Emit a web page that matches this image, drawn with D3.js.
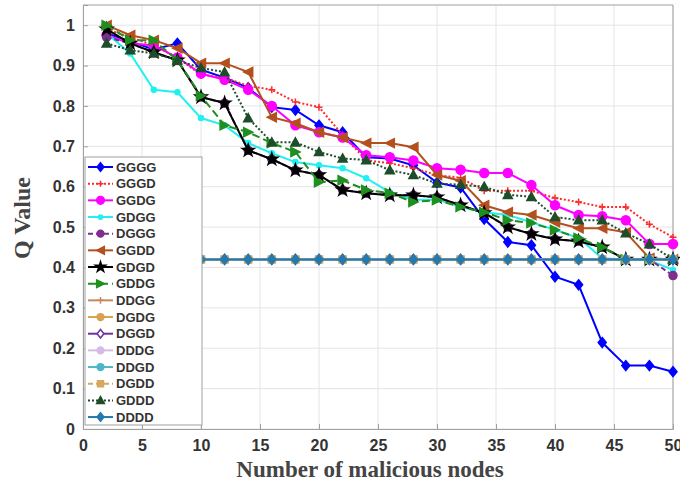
<!DOCTYPE html>
<html>
<head>
<meta charset="utf-8">
<script src="https://cdn.jsdelivr.net/npm/d3@7"></script>
<style>
  body { margin: 0; background: #fff; }
  svg { display: block; }
</style>
</head>
<body>
<div id="chart"></div>
<script>
// x positions (number of malicious nodes)
const nodes = [2, 4, 6, 8, 10, 12, 14, 16, 18, 20, 22, 24, 26, 28, 30, 32, 34, 36, 38, 40, 42, 44, 46, 48, 50];

// series names in legend order
const names = ["GGGG", "GGGD", "GGDG", "GDGG", "DGGG", "GGDD", "GDGD", "GDDG",
               "DDGG", "DGDG", "DGGD", "DDDG", "DDGD", "DGDD", "GDDD", "DDDD"];

// Q values
const GGGG = [0.98, 0.96, 0.94, 0.955, 0.89, 0.87, 0.845, 0.797, 0.79, 0.752, 0.735, 0.673, 0.67, 0.653, 0.61, 0.598, 0.52, 0.463, 0.455, 0.377, 0.357, 0.214, 0.157, 0.157, 0.142];
const GGGD = [0.99, 0.97, 0.95, 0.92, 0.877, 0.87, 0.85, 0.84, 0.81, 0.797, 0.728, 0.666, 0.658, 0.646, 0.629, 0.622, 0.59, 0.59, 0.59, 0.572, 0.562, 0.55, 0.55, 0.507, 0.475];
const GGDG = [0.975, 0.955, 0.95, 0.92, 0.88, 0.865, 0.84, 0.80, 0.752, 0.735, 0.722, 0.678, 0.673, 0.665, 0.646, 0.642, 0.634, 0.634, 0.604, 0.554, 0.53, 0.527, 0.517, 0.458, 0.458];
const GDGG = [0.98, 0.93, 0.84, 0.834, 0.77, 0.752, 0.708, 0.683, 0.661, 0.653, 0.646, 0.621, 0.586, 0.568, 0.568, 0.55, 0.537, 0.53, 0.512, 0.493, 0.473, 0.423, 0.42, 0.418, 0.394];
const DGGG = [0.97, 0.955, 0.933, 0.913, 0.822, 0.807, 0.69, 0.668, 0.641, 0.629, 0.592, 0.584, 0.579, 0.579, 0.574, 0.554, 0.535, 0.50, 0.483, 0.47, 0.465, 0.45, 0.42, 0.42, 0.38];
const GGDD = [1.0, 0.975, 0.963, 0.943, 0.906, 0.906, 0.884, 0.772, 0.757, 0.735, 0.722, 0.708, 0.708, 0.698, 0.629, 0.615, 0.554, 0.537, 0.53, 0.512, 0.497, 0.497, 0.487, 0.423, 0.42];
const GDGD = [0.99, 0.955, 0.933, 0.913, 0.822, 0.807, 0.69, 0.668, 0.641, 0.629, 0.592, 0.584, 0.579, 0.579, 0.574, 0.554, 0.535, 0.50, 0.483, 0.47, 0.465, 0.45, 0.42, 0.42, 0.42];
const GDDG = [1.0, 0.963, 0.963, 0.913, 0.825, 0.752, 0.735, 0.708, 0.686, 0.611, 0.616, 0.592, 0.584, 0.562, 0.567, 0.55, 0.537, 0.517, 0.51, 0.493, 0.473, 0.45, 0.42, 0.42, 0.42];
const DDGG = [0.42, 0.42, 0.42, 0.42, 0.42, 0.42, 0.42, 0.42, 0.42, 0.42, 0.42, 0.42, 0.42, 0.42, 0.42, 0.42, 0.42, 0.42, 0.42, 0.42, 0.42, 0.42, 0.42, 0.42, 0.42];
const DGDG = DDGG.slice();
const DGGD = DDGG.slice();
const DDDG = DDGG.slice();
const DDGD = DDGG.slice();
const DGDD = DDGG.slice();
const GDDD = [0.955, 0.938, 0.93, 0.913, 0.894, 0.884, 0.77, 0.71, 0.71, 0.686, 0.67, 0.666, 0.641, 0.629, 0.608, 0.605, 0.60, 0.58, 0.575, 0.525, 0.517, 0.517, 0.485, 0.458, 0.42];
const DDDD = [0.42, 0.42, 0.42, 0.42, 0.42, 0.42, 0.42, 0.42, 0.42, 0.42, 0.42, 0.42, 0.42, 0.42, 0.42, 0.42, 0.42, 0.42, 0.42, 0.42, 0.42, 0.42, 0.42, 0.42, 0.42];

const values = [GGGG, GGGD, GGDG, GDGG, DGGG, GGDD, GDGD, GDDG, DDGG, DGDG, DGGD, DDDG, DDGD, DGDD, GDDD, DDDD];

const xTicks = [0, 5, 10, 15, 20, 25, 30, 35, 40, 45, 50];
const yTicks = [0, 0.1, 0.2, 0.3, 0.4, 0.5, 0.6, 0.7, 0.8, 0.9, 1];

// drawing style of each series
const styles = {
    GGGG: {color: "#0000ff", dash: null,  marker: "diamond", fill: "#0000ff", size: 5},
    GGGD: {color: "#ff2a2a", dash: "2,2", marker: "plus",    fill: "none",    size: 3.5},
    GGDG: {color: "#ff00ff", dash: null,  marker: "circle",  fill: "#ff00ff", size: 4.5},
    GDGG: {color: "#22f0f0", dash: null,  marker: "circle",  fill: "#22f0f0", size: 2.5},
    DGGG: {color: "#7e2f8e", dash: "5,3", marker: "circle",  fill: "#7e2f8e", size: 4},
    GGDD: {color: "#b4501e", dash: null,  marker: "triLeft", fill: "#b4501e", size: 4.5},
    GDGD: {color: "#000000", dash: null,  marker: "star",    fill: "#000000", size: 4.5},
    GDDG: {color: "#1f8f1f", dash: "8,4", marker: "triRight",fill: "#1f8f1f", size: 4.5},
    DDGG: {color: "#c88a5a", dash: null,  marker: "plus",    fill: "none",    size: 4},
    DGDG: {color: "#d9a050", dash: null,  marker: "circle",  fill: "#d9a050", size: 4},
    DGGD: {color: "#7030a0", dash: null,  marker: "diamond", fill: "#ffffff", size: 5},
    DDDG: {color: "#d6bbe8", dash: null,  marker: "circle",  fill: "#d6bbe8", size: 4},
    DDGD: {color: "#4fb6c6", dash: null,  marker: "circle",  fill: "#4fb6c6", size: 4},
    DGDD: {color: "#d4a860", dash: "5,3", marker: "square",  fill: "#d4a860", size: 3.5},
    GDDD: {color: "#1e4d2b", dash: "2,2", marker: "triUp",   fill: "#1e4d2b", size: 4.5},
    DDDD: {color: "#2379b0", dash: null,  marker: "diamond", fill: "#2379b0", size: 5}
};

const width = 680, height = 481;
const margin = {top: 5, right: 7, bottom: 52, left: 83};

const svg = d3.select("#chart").append("svg")
    .attr("width", width)
    .attr("height", height);

const x = d3.scaleLinear().domain([0, 50]).range([margin.left, width - margin.right]);
const y = d3.scaleLinear().domain([0, 1.05]).range([height - margin.bottom, margin.top]);

function markerPath(type, s) {
    switch (type) {
        case "diamond": return `M0,${-s}L${s * 0.8},0L0,${s}L${-s * 0.8},0Z`;
        case "plus": return `M${-s},0H${s}M0,${-s}V${s}`;
        case "circle": return d3.symbol(d3.symbolCircle, Math.PI * s * s)();
        case "star": return d3.symbol(d3.symbolStar, s * s * 2.2)();
        case "triLeft": return `M${-s},0L${s},${-s}L${s},${s}Z`;
        case "triRight": return `M${s},0L${-s},${-s}L${-s},${s}Z`;
        case "triUp": return `M0,${-s}L${s},${s * 0.8}L${-s},${s * 0.8}Z`;
        case "square": return `M${-s},${-s}H${s}V${s}H${-s}Z`;
    }
}

// grid
svg.append("g")
    .selectAll("line")
    .data(xTicks)
    .join("line")
    .attr("x1", d => x(d)).attr("x2", d => x(d))
    .attr("y1", y(0)).attr("y2", margin.top)
    .attr("stroke", "#e4e4e4");

svg.append("g")
    .selectAll("line")
    .data(yTicks)
    .join("line")
    .attr("x1", x(0)).attr("x2", x(50))
    .attr("y1", d => y(d)).attr("y2", d => y(d))
    .attr("stroke", "#e4e4e4");

// axes
const tickFont = "'Liberation Sans', Arial, sans-serif";

svg.append("g")
    .attr("transform", `translate(0,${y(0)})`)
    .call(d3.axisBottom(x).tickValues(xTicks).tickSize(-5).tickPadding(11).tickFormat(d3.format("d")))
    .call(g => g.select(".domain").attr("stroke", "#a0a0a0"))
    .call(g => g.selectAll(".tick line").attr("stroke", "#a0a0a0"))
    .call(g => g.selectAll("text")
        .attr("fill", "#333")
        .attr("font-family", tickFont)
        .attr("font-weight", "bold")
        .attr("font-size", 16));

svg.append("g")
    .attr("transform", `translate(${x(0)},0)`)
    .call(d3.axisLeft(y).tickValues(yTicks).tickSize(-5).tickPadding(8).tickFormat(d => d3.format("~g")(d)))
    .call(g => g.select(".domain").attr("stroke", "#a0a0a0"))
    .call(g => g.selectAll(".tick line").attr("stroke", "#a0a0a0"))
    .call(g => g.selectAll("text")
        .attr("fill", "#333")
        .attr("font-family", tickFont)
        .attr("font-weight", "bold")
        .attr("font-size", 16));

// box top and right
svg.append("path")
    .attr("d", `M${x(0)},${margin.top}H${x(50)}V${y(0)}`)
    .attr("fill", "none")
    .attr("stroke", "#a0a0a0");

// series
svg.append("clipPath").attr("id", "plot")
    .append("rect")
    .attr("x", x(0)).attr("y", margin.top)
    .attr("width", x(50) - x(0) + 8).attr("height", y(0) - margin.top);

const line = d3.line().x((d, i) => x(nodes[i])).y(d => y(d));

const plot = svg.append("g").attr("clip-path", "url(#plot)");

names.forEach((name, k) => {
    const st = styles[name];
    const g = plot.append("g");
    g.append("path")
        .attr("d", line(values[k]))
        .attr("fill", "none")
        .attr("stroke", st.color)
        .attr("stroke-width", 2)
        .attr("stroke-dasharray", st.dash);
    g.selectAll("path.m")
        .data(values[k])
        .join("path")
        .attr("class", "m")
        .attr("transform", (d, i) => `translate(${x(nodes[i])},${y(d)})`)
        .attr("d", markerPath(st.marker, st.size))
        .attr("fill", st.fill)
        .attr("stroke", st.color)
        .attr("stroke-width", 1.5);
});

// legend
const lg = svg.append("g");
lg.append("rect")
    .attr("x", 85).attr("y", 157)
    .attr("width", 117).attr("height", 268)
    .attr("fill", "#fff")
    .attr("stroke", "#a0a0a0");

names.forEach((name, k) => {
    const st = styles[name];
    const yy = 167 + k * 16.67;
    lg.append("line")
        .attr("x1", 88).attr("x2", 113)
        .attr("y1", yy).attr("y2", yy)
        .attr("stroke", st.color)
        .attr("stroke-width", 2)
        .attr("stroke-dasharray", st.dash);
    lg.append("path")
        .attr("transform", `translate(100.5,${yy})`)
        .attr("d", markerPath(st.marker, st.size * 0.85))
        .attr("fill", st.fill)
        .attr("stroke", st.color)
        .attr("stroke-width", 1.5);
    lg.append("text")
        .attr("x", 116).attr("y", yy)
        .attr("dy", "0.36em")
        .attr("fill", "#333")
        .attr("font-family", tickFont)
        .attr("font-weight", "bold")
        .attr("font-size", 13)
        .text(name);
});

// axis titles
svg.append("text")
    .attr("x", 370).attr("y", 477)
    .attr("text-anchor", "middle")
    .attr("fill", "#444")
    .attr("font-family", "'Liberation Serif', 'Times New Roman', serif")
    .attr("font-weight", "bold")
    .attr("font-size", 23)
    .text("Number of malicious nodes");

svg.append("text")
    .attr("transform", "translate(30,218) rotate(-90)")
    .attr("text-anchor", "middle")
    .attr("fill", "#444")
    .attr("font-family", "'Liberation Serif', 'Times New Roman', serif")
    .attr("font-weight", "bold")
    .attr("font-size", 24)
    .text("Q Value");
</script>
</body>
</html>
